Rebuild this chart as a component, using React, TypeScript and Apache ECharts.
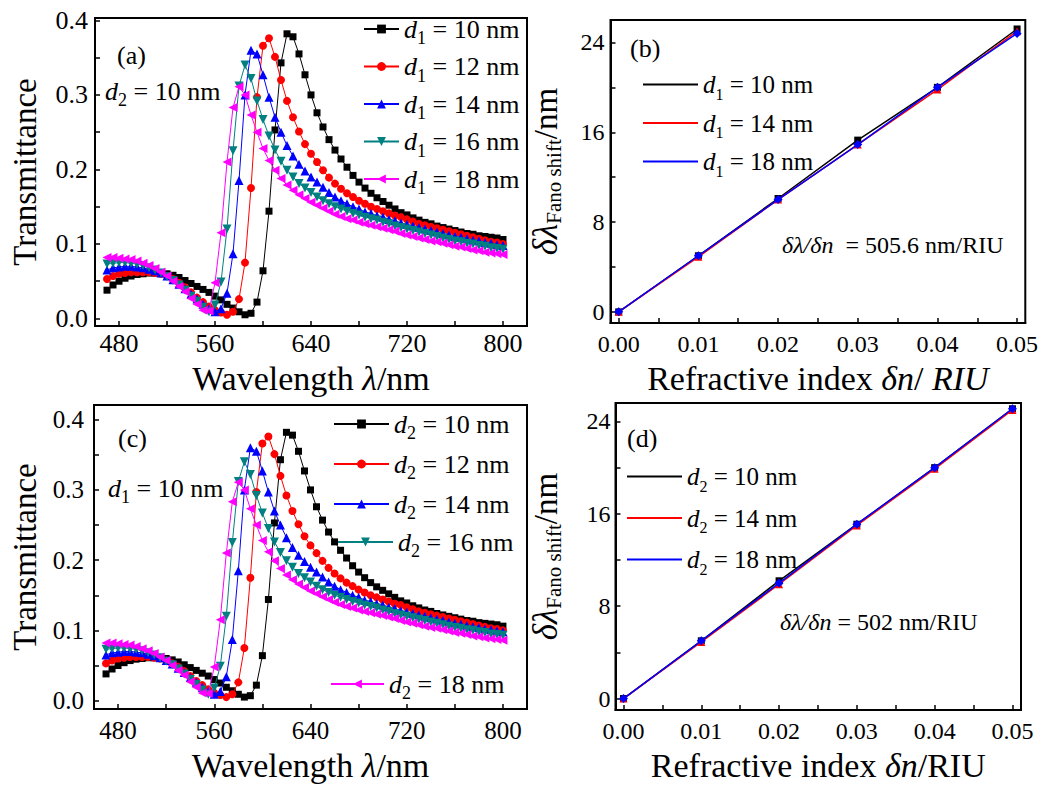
import React, { useEffect, useRef } from "react";
import * as echarts from "echarts";

const FONT = "'Liberation Serif', 'Times New Roman', Times, serif";

// ---------- data: spectra (panels a and c) ----------
const wavelengths = [
  470, 475, 480, 485, 490, 495, 500, 505, 510, 515, 520, 525, 530, 535, 540, 545, 550, 555, 560, 565,
  570, 575, 580, 585, 590, 595, 600, 605, 610, 615, 620, 625, 630, 635, 640, 645, 650, 655, 660, 665,
  670, 675, 680, 685, 690, 695, 700, 705, 710, 715, 720, 725, 730, 735, 740, 745, 750, 755, 760, 765,
  770, 775, 780, 785, 790, 795, 800,
];
const transBlack = [
  0.038, 0.045, 0.05, 0.054, 0.057, 0.059, 0.06, 0.061, 0.061, 0.061, 0.06, 0.058, 0.055, 0.051, 0.047, 0.043, 0.039, 0.035, 0.03, 0.025,
  0.019, 0.014, 0.009, 0.005, 0.007, 0.022, 0.064, 0.144, 0.253, 0.343, 0.382, 0.378, 0.355, 0.327, 0.3, 0.276, 0.257, 0.24, 0.226, 0.214,
  0.203, 0.192, 0.183, 0.175, 0.168, 0.162, 0.157, 0.152, 0.147, 0.142, 0.139, 0.135, 0.132, 0.129, 0.127, 0.124, 0.122, 0.12, 0.118, 0.116,
  0.114, 0.113, 0.111, 0.11, 0.109, 0.108, 0.106,
];
const transRed = [
  0.053, 0.057, 0.06, 0.061, 0.062, 0.062, 0.062, 0.062, 0.061, 0.06, 0.057, 0.053, 0.048, 0.042, 0.035, 0.028, 0.022, 0.016, 0.011, 0.008,
  0.005, 0.009, 0.026, 0.075, 0.175, 0.297, 0.366, 0.376, 0.351, 0.32, 0.292, 0.27, 0.251, 0.234, 0.221, 0.21, 0.199, 0.189, 0.181, 0.174,
  0.168, 0.163, 0.158, 0.154, 0.15, 0.147, 0.144, 0.141, 0.138, 0.136, 0.133, 0.13, 0.127, 0.125, 0.123, 0.121, 0.119, 0.117, 0.115, 0.113,
  0.111, 0.109, 0.107, 0.105, 0.103, 0.102, 0.1,
];
const transBlue = [
  0.065, 0.068, 0.069, 0.07, 0.07, 0.069, 0.068, 0.066, 0.064, 0.061, 0.057, 0.052, 0.046, 0.04, 0.033, 0.026, 0.019, 0.013, 0.009, 0.013,
  0.034, 0.087, 0.185, 0.3, 0.36, 0.355, 0.327, 0.297, 0.27, 0.25, 0.232, 0.218, 0.207, 0.198, 0.19, 0.183, 0.176, 0.169, 0.163, 0.158,
  0.154, 0.15, 0.147, 0.143, 0.141, 0.138, 0.136, 0.133, 0.131, 0.128, 0.126, 0.124, 0.122, 0.12, 0.118, 0.116, 0.114, 0.112, 0.11, 0.109,
  0.107, 0.105, 0.104, 0.102, 0.101, 0.099, 0.098,
];
const transTeal = [
  0.073, 0.074, 0.075, 0.075, 0.074, 0.073, 0.071, 0.068, 0.065, 0.061, 0.056, 0.051, 0.045, 0.038, 0.03, 0.023, 0.015, 0.009, 0.018, 0.049,
  0.12, 0.225, 0.312, 0.34, 0.322, 0.292, 0.267, 0.245, 0.226, 0.211, 0.199, 0.19, 0.181, 0.175, 0.169, 0.163, 0.158, 0.154, 0.15, 0.147,
  0.144, 0.141, 0.139, 0.136, 0.134, 0.132, 0.129, 0.127, 0.124, 0.122, 0.12, 0.118, 0.116, 0.114, 0.112, 0.11, 0.108, 0.106, 0.104, 0.103,
  0.101, 0.1, 0.098, 0.097, 0.095, 0.094, 0.093,
];
const transMagenta = [
  0.082, 0.082, 0.081, 0.08, 0.079, 0.077, 0.074, 0.071, 0.067, 0.062, 0.057, 0.05, 0.043, 0.036, 0.027, 0.019, 0.011, 0.01, 0.048, 0.115,
  0.21, 0.283, 0.311, 0.3, 0.273, 0.25, 0.228, 0.212, 0.199, 0.188, 0.179, 0.172, 0.166, 0.161, 0.156, 0.152, 0.148, 0.144, 0.14, 0.137,
  0.134, 0.132, 0.129, 0.127, 0.125, 0.123, 0.121, 0.119, 0.117, 0.114, 0.112, 0.11, 0.108, 0.106, 0.104, 0.103, 0.101, 0.099, 0.097, 0.096,
  0.094, 0.092, 0.091, 0.089, 0.088, 0.087, 0.086,
];
const namesA = ["d1 = 10 nm", "d1 = 12 nm", "d1 = 14 nm", "d1 = 16 nm", "d1 = 18 nm"];
const namesC = ["d2 = 10 nm", "d2 = 12 nm", "d2 = 14 nm", "d2 = 16 nm", "d2 = 18 nm"];

const wlTicks = [480, 520, 560, 600, 640, 680, 720, 760, 800];
const wlLabels = [480, 560, 640, 720, 800];
const tTicks = [0, 0.05, 0.1, 0.15, 0.2, 0.25, 0.3, 0.35, 0.4];
const tLabels = [0, 0.1, 0.2, 0.3, 0.4];

// ---------- data: Fano shift vs refractive index (panels b and d) ----------
const riuSteps = [0, 0.01, 0.02, 0.03, 0.04, 0.05];
const shiftB10 = [0, 5.0, 10.1, 15.3, 20.0, 25.2];
const shiftB14 = [0, 4.9, 10.0, 14.9, 19.8, 25.0];
const shiftB18 = [0, 5.0, 10.0, 14.9, 20.0, 24.8];
const shiftD10 = [0, 5.0, 10.2, 15.1, 20.0, 25.1];
const shiftD14 = [0, 4.9, 9.9, 15.0, 19.9, 25.0];
const shiftD18 = [0, 5.0, 10.0, 15.1, 20.0, 25.1];
const namesB = ["d1 = 10 nm", "d1 = 14 nm", "d1 = 18 nm"];
const namesD = ["d2 = 10 nm", "d2 = 14 nm", "d2 = 18 nm"];
const riuTicks = [0, 0.005, 0.01, 0.015, 0.02, 0.025, 0.03, 0.035, 0.04, 0.045, 0.05];
const riuLabels = [0, 0.01, 0.02, 0.03, 0.04, 0.05];
const shiftTicks = [0, 4, 8, 12, 16, 20, 24];
const shiftLabels = [0, 8, 16, 24];

// ---------- styles ----------
const SPEC_COLOR = ["#000000", "#ff0000", "#0000ff", "#008080", "#ff00ff"];
const SPEC_SYMBOL = ["rect", "circle", "triangle", "triangle", "triangle"];
const SPEC_SIZE = [7, 8, 9, 9, 9];
const SPEC_ROT = [0, 0, 0, 180, 90];
const SHIFT_COLOR = ["#000000", "#ff0000", "#0000ff"];
const SHIFT_SYMBOL = ["rect", "triangle", "diamond"];
const SHIFT_SIZE = [7, 8, 9];

const dRich = (fs: number, sub: number, lh: number) => ({
  i: { fontFamily: FONT, fontStyle: "italic", fontSize: fs, lineHeight: lh, color: "#000" },
  s: { fontFamily: FONT, fontSize: sub, lineHeight: sub, verticalAlign: "bottom", color: "#000" },
  n: { fontFamily: FONT, fontSize: fs, lineHeight: lh, color: "#000" },
});
const dFormat = (name: string) => {
  const m = name.match(/^d(\d) = (.*)$/);
  return m ? `{i|d}{s|${m[1]}}{n| = ${m[2]}}` : name;
};

const axisLineStyle = { show: true, onZero: false, lineStyle: { color: "#000", width: 2 } };
const tickStyle = { color: "#000", width: 1.5 };

function textEl(x: number, y: number, text: string, fontSize: number, rich?: any) {
  return {
    type: "text",
    x,
    y,
    silent: true,
    style: { text, fontFamily: FONT, fontSize, fill: "#000", verticalAlign: "middle", rich },
  };
}

function spectrumOption(p: any) {
  const values = [transBlack, transRed, transBlue, transTeal, transMagenta];
  return {
    animation: false,
    backgroundColor: "transparent",
    textStyle: { fontFamily: FONT },
    grid: { ...p.grid, show: true, borderColor: "#000", borderWidth: 2, backgroundColor: "transparent" },
    xAxis: {
      type: "value",
      min: 460,
      max: 820,
      name: "{n|Wavelength }{i|λ}{n|/nm}",
      nameLocation: "middle",
      nameGap: p.xNameGap,
      nameTextStyle: {
        rich: {
          n: { fontFamily: FONT, fontSize: 34, lineHeight: 36, color: "#000" },
          i: { fontFamily: FONT, fontSize: 34, lineHeight: 36, fontStyle: "italic", color: "#000" },
        },
      },
      axisLine: axisLineStyle,
      axisTick: { show: true, inside: true, length: 5, customValues: wlTicks, lineStyle: tickStyle },
      axisLabel: { customValues: wlLabels, fontFamily: FONT, fontSize: p.labelSize, color: "#000", margin: p.xLabelMargin },
      splitLine: { show: false },
    },
    yAxis: {
      type: "value",
      min: p.yMin,
      max: p.yMax,
      name: "Transmittance",
      nameLocation: "middle",
      nameGap: p.yNameGap,
      nameTextStyle: { fontFamily: FONT, fontSize: 33, color: "#000" },
      axisLine: axisLineStyle,
      axisTick: { show: true, inside: true, length: 5, customValues: tTicks, lineStyle: tickStyle },
      axisLabel: {
        customValues: tLabels,
        formatter: (v: number) => v.toFixed(1),
        fontFamily: FONT,
        fontSize: p.labelSize,
        color: "#000",
        margin: p.yLabelMargin,
      },
      splitLine: { show: false },
    },
    legend: p.legends.map((l: any) => ({
      orient: "vertical",
      padding: 0,
      selectedMode: false,
      itemWidth: l.itemWidth,
      itemHeight: 11,
      itemGap: l.itemGap ?? 6.5,
      left: l.left,
      top: l.top,
      data: l.data,
      formatter: dFormat,
      textStyle: { fontFamily: FONT, fontSize: 26, color: "#000", rich: dRich(26, 18, 36) },
    })),
    series: values.map((vals, k) => ({
      type: "line",
      name: p.names[k],
      data: wavelengths.map((w, i) => [w, vals[i]]),
      symbol: SPEC_SYMBOL[k],
      symbolSize: SPEC_SIZE[k],
      symbolRotate: SPEC_ROT[k],
      lineStyle: { color: SPEC_COLOR[k], width: 1 },
      itemStyle: { color: SPEC_COLOR[k] },
      emphasis: { disabled: true },
      z: 2 + k,
    })),
    graphic: p.graphics,
  };
}

function shiftOption(p: any) {
  return {
    animation: false,
    backgroundColor: "transparent",
    textStyle: { fontFamily: FONT },
    grid: { ...p.grid, show: true, borderColor: "#000", borderWidth: 2, backgroundColor: "transparent" },
    xAxis: {
      type: "value",
      min: -0.00103,
      max: p.xMax,
      name: p.xName,
      nameLocation: "middle",
      nameGap: p.xNameGap,
      nameTextStyle: {
        rich: {
          n: { fontFamily: FONT, fontSize: 34, lineHeight: 36, color: "#000" },
          i: { fontFamily: FONT, fontSize: 34, lineHeight: 36, fontStyle: "italic", color: "#000" },
        },
      },
      axisLine: axisLineStyle,
      axisTick: { show: true, inside: true, length: 5, customValues: riuTicks, lineStyle: tickStyle },
      axisLabel: {
        customValues: riuLabels,
        formatter: (v: number) => v.toFixed(2),
        fontFamily: FONT,
        fontSize: 24,
        color: "#000",
        margin: 9,
      },
      splitLine: { show: false },
    },
    yAxis: {
      type: "value",
      min: -1,
      max: p.yMax,
      name: "{a|δλ}{b|Fano shift}{c|/nm}",
      nameLocation: "middle",
      nameGap: p.yNameGap,
      nameTextStyle: {
        rich: {
          a: { fontFamily: FONT, fontSize: 35, fontStyle: "italic", lineHeight: 38, color: "#000" },
          b: { fontFamily: FONT, fontSize: 21, lineHeight: 21, verticalAlign: "bottom", color: "#000" },
          c: { fontFamily: FONT, fontSize: 33, lineHeight: 38, color: "#000" },
        },
      },
      axisLine: axisLineStyle,
      axisTick: { show: true, inside: true, length: 5, customValues: shiftTicks, lineStyle: tickStyle },
      axisLabel: { customValues: shiftLabels, fontFamily: FONT, fontSize: 24, color: "#000", margin: p.yLabelMargin },
      splitLine: { show: false },
    },
    legend: {
      orient: "vertical",
      padding: 0,
      selectedMode: false,
      icon: "rect",
      itemWidth: 55,
      itemHeight: 2,
      itemGap: p.legendGap,
      left: p.legendLeft,
      top: p.legendTop,
      data: p.names,
      formatter: dFormat,
      textStyle: { fontFamily: FONT, fontSize: 25, color: "#000", rich: dRich(25, 16, 35) },
    },
    series: p.values.map((vals: number[], k: number) => ({
      type: "line",
      name: p.names[k],
      data: riuSteps.map((x, i) => [x, vals[i]]),
      symbol: SHIFT_SYMBOL[k],
      symbolSize: SHIFT_SIZE[k],
      lineStyle: { color: SHIFT_COLOR[k], width: 1.5 },
      itemStyle: { color: SHIFT_COLOR[k] },
      emphasis: { disabled: true },
      z: 2 + k,
    })),
    graphic: p.graphics,
  };
}

const optA = spectrumOption({
  names: namesA,
  grid: { left: 89, top: 18, width: 438, height: 312 },
  yMin: -0.0102,
  yMax: 0.4032,
  labelSize: 26,
  xLabelMargin: 4,
  yLabelMargin: 7,
  yNameGap: 54,
  xNameGap: 31,
  legends: [{ data: namesA, left: 363, top: 16, itemWidth: 35, itemGap: 6.5 }],
  graphics: [textEl(117, 55, "(a)", 26), textEl(105, 91, "{i|d}{s|2}{n| = 10 nm}", 26, dRich(26, 18, 36))],
});

const optC = spectrumOption({
  names: namesC,
  grid: { left: 94, top: 12, width: 433, height: 311 },
  yMin: -0.0121,
  yMax: 0.4209,
  labelSize: 25,
  xLabelMargin: 9,
  yLabelMargin: 10,
  yNameGap: 51,
  xNameGap: 29,
  legends: [
    { data: [namesC[0]], left: 333, top: 18, itemWidth: 55 },
    { data: [namesC[1]], left: 333, top: 58, itemWidth: 55 },
    { data: [namesC[2]], left: 333, top: 98, itemWidth: 55 },
    { data: [namesC[3]], left: 337, top: 136, itemWidth: 55 },
    { data: [namesC[4]], left: 330, top: 278, itemWidth: 53 },
  ],
  graphics: [textEl(118, 45, "(c)", 26), textEl(108, 95, "{i|d}{s|1}{n| = 10 nm}", 26, dRich(26, 18, 36))],
});

const optB = shiftOption({
  names: namesB,
  values: [shiftB10, shiftB14, shiftB18],
  grid: { left: 86, top: 20, width: 420, height: 316 },
  xMax: 0.05103,
  yMax: 26,
  xName: "{n|Refractive index }{i|δn}{n|/ }{i|RIU}",
  xNameGap: 31,
  yNameGap: 46,
  yLabelMargin: 6,
  legendLeft: 123,
  legendTop: 72,
  legendGap: 8.5,
  graphics: [
    textEl(110, 48, "(b)", 26),
    textEl(262, 245, "{i|δλ/δn}{n|  = 505.6 nm/RIU}", 24, {
      i: { fontFamily: FONT, fontSize: 24, fontStyle: "italic", color: "#000" },
      n: { fontFamily: FONT, fontSize: 24, color: "#000" },
    }),
  ],
});

const optD = shiftOption({
  names: namesD,
  values: [shiftD10, shiftD14, shiftD18],
  grid: { left: 82, top: 10, width: 419, height: 313 },
  xMax: 0.0511,
  yMax: 25.6,
  xName: "{n|Refractive index }{i|δn}{n|/RIU}",
  xNameGap: 33,
  yNameGap: 51,
  yLabelMargin: 5,
  legendLeft: 107,
  legendTop: 71,
  legendGap: 11.5,
  graphics: [
    textEl(107, 45, "(d)", 26),
    textEl(260, 229, "{i|δλ/δn}{n| = 502 nm/RIU}", 24, {
      i: { fontFamily: FONT, fontSize: 24, fontStyle: "italic", color: "#000" },
      n: { fontFamily: FONT, fontSize: 24, color: "#000" },
    }),
  ],
});

function Chart({ option, style }: { option: any; style: React.CSSProperties }) {
  const ref = useRef<HTMLDivElement>(null);
  useEffect(() => {
    const chart = echarts.init(ref.current!, undefined, { renderer: "svg" });
    chart.setOption(option);
    return () => chart.dispose();
  }, [option]);
  return <div ref={ref} style={{ position: "absolute", ...style }} />;
}

export default function App() {
  return (
    <div
      style={{ position: "fixed", left: 0, top: 0, width: 1041, height: 787, background: "#fff", overflow: "hidden" }}
    >
      <Chart option={optC} style={{ left: 0, top: 393, width: 530, height: 394 }} />
      <Chart option={optD} style={{ left: 520, top: 393, width: 521, height: 394 }} />
      <Chart option={optA} style={{ left: 0, top: 0, width: 530, height: 400 }} />
      <Chart option={optB} style={{ left: 520, top: 0, width: 521, height: 400 }} />
    </div>
  );
}
